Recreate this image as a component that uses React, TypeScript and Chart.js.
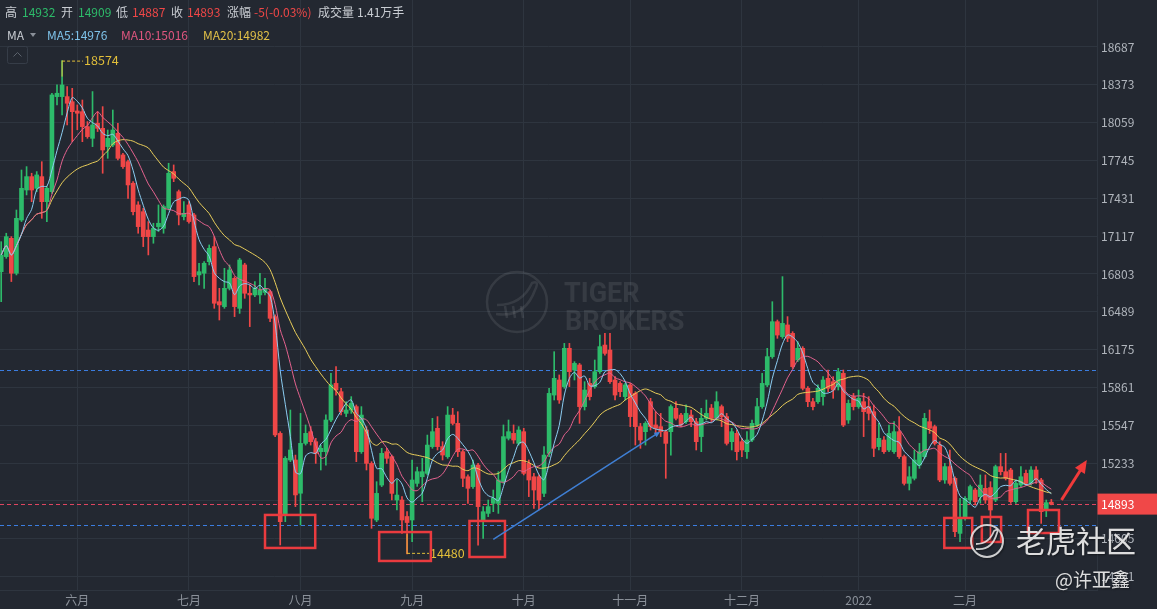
import React, { useEffect, useRef } from "react";
import { Chart, registerables } from "chart.js";

Chart.register(...registerables);

const FONT = '"Noto Sans CJK SC", "Noto Sans", sans-serif';
const BG = "#232831";
const GRID = "#2e353f";
const UP = "#2dbb6a";
const DOWN = "#ef4747";
const LABEL = "#c9cdd3";
const AXIS_TEXT = "#b0b5bc";

const monthTickIndex = [15, 37, 59, 81, 103, 124, 146, 169, 190];
const monthLabels = ["六月", "七月", "八月", "九月", "十月", "十一月", "十二月", "2022", "二月"];
const priceTicks = [18687, 18373, 18059, 17745, 17431, 17117, 16803, 16489, 16175, 15861, 15547, 15233, 14919, 14605, 14291];

const opens = [
  16822, 16947, 17099, 16809, 17251, 17500, 17611, 17514, 17611, 17403,
  17486, 18275, 18275, 18275, 18233, 18156, 18150, 18026, 17929, 18054,
  18012, 17860, 17874, 17971, 17791, 17735, 17556, 17376, 17320, 17168,
  17113, 17196, 17182, 17348, 17653, 17486, 17279, 17376, 17293, 16795,
  16809, 16905, 17030, 16573, 16532, 16684, 16767, 16518, 16878, 16643,
  16629, 16629, 16650, 16656, 16449, 15480, 14803, 15259, 15259, 14983,
  15397, 15494, 15411, 15328, 15328, 15591, 15895, 15826, 15646, 15674,
  15702, 15328, 15508, 15231, 14761, 15051, 15328, 15287, 14927, 14927,
  14790, 14761, 15065, 15120, 15148, 15370, 15522, 15370, 15287, 15632,
  15563, 15328, 15120, 15038, 15217, 14747, 14816, 14899, 14899, 15079,
  15439, 15480, 15397, 15494, 15231, 15120, 15120, 14982, 15314, 15798,
  15923, 15868, 16186, 16006, 16048, 15702, 15895, 15868, 15992, 16213,
  16172, 15923, 15895, 15785, 15882, 15812, 15536, 15494, 15743, 15550,
  15536, 15494, 15494, 15688, 15632, 15577, 15632, 15577, 15453, 15605,
  15690, 15605, 15702, 15619, 15411, 15480, 15411, 15328, 15425, 15550,
  15702, 15882, 16117, 16407, 16283, 16380, 16310, 16089, 16186, 15854,
  15743, 15743, 15785, 15937, 15909, 15868, 15978, 15591, 15785, 15702,
  15743, 15702, 15660, 15370, 15425, 15342, 15328, 15494, 15287, 15065,
  15107, 15217, 15287, 15577, 15536, 15383, 15093, 15204, 15107, 14650,
  14780, 14927, 15010, 14955, 15024, 15030, 14927, 15204, 15162, 15176,
  14913, 15051, 15148, 15065, 15176, 15093, 14850, 14909,
];
const highs = [
  17071, 17141, 17113, 17334, 17666, 17694, 17639, 17653, 17735, 17528,
  18303, 18372, 18574, 18358, 18344, 18206, 18247, 18068, 18317, 18150,
  18192, 17998, 18164, 18054, 17805, 17749, 17569, 17403, 17348, 17238,
  17224, 17376, 17376, 17722, 17708, 17500, 17403, 17403, 17307, 16892,
  16905, 17044, 17113, 16684, 16850, 16878, 16781, 16933, 16892, 16712,
  16739, 16809, 16767, 16670, 16463, 15494, 15287, 15674, 15300, 15646,
  15550, 15536, 15439, 15383, 15633, 15978, 16034, 15854, 15743, 15785,
  15716, 15702, 15536, 15245, 15079, 15356, 15356, 15300, 15093, 14955,
  14830, 15259, 15200, 15273, 15466, 15605, 15619, 15411, 15702, 15688,
  15660, 15342, 15135, 15259, 15231, 14872, 14927, 15010, 15162, 15550,
  15591, 15550, 15536, 15522, 15259, 15148, 15135, 15370, 15854, 16158,
  15965, 16227, 16227, 16075, 16061, 15909, 15937, 16089, 16296, 16310,
  16310, 15951, 15909, 15895, 15895, 15826, 15563, 15577, 15771, 15660,
  15646, 15508, 15716, 15743, 15646, 15716, 15674, 15605, 15688, 15757,
  15720, 15826, 15716, 15646, 15522, 15508, 15439, 15494, 15591, 15771,
  15978, 16186, 16573, 16421, 16781, 16449, 16324, 16241, 16200, 15868,
  15771, 15882, 15951, 16006, 15951, 16020, 16006, 15757, 15812, 15840,
  15812, 15785, 15715, 15563, 15453, 15549, 15577, 15619, 15300, 15204,
  15342, 15397, 15646, 15674, 15549, 15411, 15231, 15342, 15120, 14941,
  14955, 15051, 15024, 15135, 15135, 15079, 15217, 15314, 15314, 15190,
  15093, 15204, 15176, 15204, 15204, 15107, 14927, 14932,
];
const lows = [
  16573, 16933, 16740, 16795, 17238, 17459, 17403, 17486, 17265, 17238,
  17472, 18206, 18123, 18040, 17901, 18000, 17901, 17929, 17860, 17985,
  17639, 17763, 17860, 17749, 17680, 17431, 17293, 17141, 17030, 16961,
  17058, 17155, 17141, 17334, 17569, 17210, 17251, 17224, 16739, 16712,
  16684, 16878, 16518, 16421, 16518, 16670, 16449, 16476, 16601, 16366,
  16615, 16559, 16629, 16407, 15453, 14554, 14747, 15245, 14872, 14720,
  15383, 15383, 15231, 15176, 15217, 15577, 15798, 15633, 15619, 15646,
  15245, 15314, 15176, 14692, 14747, 15038, 15231, 14927, 14844, 14650,
  14480, 14581, 15040, 14913, 15135, 15356, 15342, 15259, 15273, 15550,
  15287, 15038, 14899, 15024, 14553, 14609, 14789, 14830, 14816, 15065,
  15425, 15397, 15383, 15135, 14955, 14858, 14844, 14955, 15287, 15757,
  15729, 15854, 15868, 15923, 15563, 15674, 15757, 15854, 15978, 16130,
  15895, 15757, 15785, 15757, 15536, 15383, 15356, 15383, 15508, 15480,
  15453, 15107, 15300, 15591, 15536, 15563, 15536, 15342, 15328, 15591,
  15580, 15591, 15536, 15383, 15342, 15259, 15287, 15273, 15411, 15536,
  15688, 15868, 16103, 16269, 16269, 16241, 16020, 16075, 15840, 15702,
  15674, 15729, 15715, 15826, 15771, 15840, 15536, 15563, 15674, 15688,
  15453, 15591, 15287, 15342, 15314, 15328, 15314, 15273, 15051, 15010,
  15093, 15190, 15273, 15480, 15383, 15079, 15065, 15051, 14622, 14581,
  14760, 14899, 14886, 14900, 14899, 14595, 14913, 15135, 15093, 14899,
  14899, 15038, 15051, 15051, 15065, 14733, 14789, 14887,
];
const closes = [
  16961, 17113, 16809, 17265, 17514, 17611, 17500, 17625, 17403, 17514,
  18289, 18303, 18372, 18220, 18150, 18137, 18026, 17943, 18040, 18012,
  17832, 17929, 17998, 17763, 17694, 17542, 17320, 17196, 17113, 17113,
  17182, 17224, 17362, 17639, 17597, 17293, 17307, 17238, 16781, 16822,
  16892, 17016, 16560, 16546, 16684, 16836, 16532, 16919, 16643, 16629,
  16684, 16670, 16684, 16435, 15467, 14747, 15273, 15342, 14969, 15397,
  15480, 15411, 15314, 15356, 15591, 15882, 15840, 15660, 15674, 15729,
  15328, 15632, 15231, 14775, 14982, 15314, 15273, 14982, 14968, 14761,
  14740, 15093, 15162, 15162, 15383, 15494, 15370, 15300, 15632, 15563,
  15328, 15107, 15024, 15217, 14872, 14830, 14872, 14941, 15093, 15453,
  15494, 15425, 15508, 15148, 15093, 15010, 14927, 15300, 15812, 15937,
  15757, 16186, 15992, 16061, 15702, 15840, 15785, 15992, 16200, 16144,
  15909, 15798, 15826, 15882, 15619, 15536, 15425, 15563, 15536, 15522,
  15494, 15397, 15702, 15605, 15550, 15646, 15577, 15411, 15605, 15646,
  15605, 15743, 15619, 15397, 15494, 15328, 15342, 15425, 15563, 15702,
  15895, 16117, 16407, 16296, 16393, 16269, 16034, 16186, 15854, 15743,
  15702, 15854, 15923, 15854, 15840, 15992, 15549, 15729, 15702, 15771,
  15660, 15646, 15356, 15439, 15328, 15480, 15494, 15287, 15065, 15120,
  15259, 15328, 15605, 15522, 15397, 15093, 15204, 15065, 14664, 14780,
  14941, 15038, 14913, 15051, 14927, 14844, 15204, 15162, 15107, 14913,
  15065, 15120, 15065, 15176, 15093, 14830, 14905, 14893,
];

const lastPrice = 14893;
const highMark = { index: 12, value: 18574 };
const lowMark = { index: 80, value: 14480 };
const levelLines = [16006, 14717];
// [startIndex, endIndex, topValue, bottomValue]
const boxes = [
  [52.0, 61.9, 14803, 14529],
  [74.5, 84.7, 14661, 14421],
  [92.3, 99.3, 14753, 14454],
  [185.9, 191.4, 14778, 14529],
  [193.3, 197.1, 14786, 14579],
  [202.4, 208.5, 14844, 14653],
];
const trendLine = [[97.0, 14601], [129.9, 15494]];
const upArrow = [[209.0, 14927], [214.0, 15259]];

const headerRow1: [string, string, number][] = [
  ["高", LABEL, 5], ["14932", UP, 22], ["开", LABEL, 61], ["14909", UP, 78],
  ["低", LABEL, 116], ["14887", DOWN, 132], ["收", LABEL, 171], ["14893", DOWN, 187],
  ["涨幅", LABEL, 227], ["-5(-0.03%)", DOWN, 254], ["成交量", LABEL, 318], ["1.41万手", LABEL, 357],
];
const headerRow2: [string, string, number][] = [
  ["MA", LABEL, 7], ["MA5:14976", "#7ec3ea", 47], ["MA10:15016", "#e0567f", 121], ["MA20:14982", "#e2c148", 203],
];

function movingAverage(values: number[], n: number) {
  return values.map((_, i) => {
    const s = Math.max(0, i - n + 1);
    let sum = 0;
    for (let k = s; k <= i; k++) sum += values[k];
    return sum / (i - s + 1);
  });
}

function drawArrow(ctx: CanvasRenderingContext2D, x1: number, y1: number, x2: number, y2: number, color: string, width: number, head: number) {
  const ang = Math.atan2(y2 - y1, x2 - x1);
  ctx.save();
  ctx.strokeStyle = color;
  ctx.fillStyle = color;
  ctx.lineWidth = width;
  ctx.beginPath();
  ctx.moveTo(x1, y1);
  ctx.lineTo(x2 - head * 0.7 * Math.cos(ang), y2 - head * 0.7 * Math.sin(ang));
  ctx.stroke();
  const bx = x2 - head * Math.cos(ang), by = y2 - head * Math.sin(ang);
  const px = Math.sin(ang) * head * 0.45, py = -Math.cos(ang) * head * 0.45;
  ctx.beginPath();
  ctx.moveTo(x2, y2);
  ctx.lineTo(bx + px, by + py);
  ctx.lineTo(bx - px, by - py);
  ctx.closePath();
  ctx.fill();
  ctx.restore();
}

const decorPlugin = {
  id: "decor",
  beforeDraw(chart: any) {
    const ctx = chart.ctx as CanvasRenderingContext2D;
    ctx.save();
    ctx.fillStyle = BG;
    ctx.fillRect(0, 0, chart.width, chart.height);
    ctx.restore();
  },
  beforeDatasetsDraw(chart: any) {
    const ctx = chart.ctx as CanvasRenderingContext2D;
    const x = chart.scales.x, y = chart.scales.y;
    const area = chart.chartArea;
    ctx.save();
    // TIGER BROKERS watermark
    const wm = "rgba(255,255,255,0.09)";
    ctx.strokeStyle = wm;
    ctx.fillStyle = wm;
    ctx.lineWidth = 2.5;
    ctx.beginPath();
    ctx.arc(517, 302, 30, 0, Math.PI * 2);
    ctx.stroke();
    ctx.lineWidth = 2.5;
    ctx.beginPath();
    ctx.moveTo(496, 314);
    ctx.quadraticCurveTo(525, 318, 535, 290);
    ctx.quadraticCurveTo(540, 280, 532, 283);
    ctx.quadraticCurveTo(522, 305, 497, 305);
    ctx.stroke();
    ctx.beginPath();
    for (const dx of [505, 513, 521]) {
      ctx.moveTo(dx, 306);
      ctx.lineTo(dx + 2, 318);
    }
    ctx.stroke();
    ctx.font = `bold 27px Roboto, "Noto Sans", sans-serif`;
    ctx.textBaseline = "alphabetic";
    ctx.fillText("TIGER", 564, 302);
    ctx.fillText("BROKERS", 565, 330);
    // level lines
    ctx.setLineDash([4, 3]);
    ctx.lineWidth = 1;
    ctx.strokeStyle = "#3b7de0";
    for (const v of levelLines) {
      const py = Math.round(y.getPixelForValue(v)) + 0.5;
      ctx.beginPath();
      ctx.moveTo(area.left, py);
      ctx.lineTo(area.right, py);
      ctx.stroke();
    }
    ctx.strokeStyle = "#de4560";
    const pp = Math.round(y.getPixelForValue(lastPrice)) + 0.5;
    ctx.beginPath();
    ctx.moveTo(area.left, pp);
    ctx.lineTo(area.right, pp);
    ctx.stroke();
    ctx.restore();
  },
  afterDatasetsDraw(chart: any) {
    const ctx = chart.ctx as CanvasRenderingContext2D;
    const x = chart.scales.x, y = chart.scales.y;
    ctx.save();
    const yellow = "#e2bf3a";
    ctx.font = `12.5px ${FONT}`;
    ctx.textBaseline = "middle";
    // high marker
    const hx = x.getPixelForValue(highMark.index), hy = y.getPixelForValue(highMark.value);
    ctx.strokeStyle = yellow;
    ctx.fillStyle = yellow;
    ctx.lineWidth = 1;
    ctx.setLineDash([]);
    ctx.beginPath();
    ctx.moveTo(hx, hy);
    ctx.lineTo(hx, hy + 16);
    ctx.stroke();
    ctx.setLineDash([3, 2]);
    ctx.beginPath();
    ctx.moveTo(hx, hy + 0.5);
    ctx.lineTo(hx + 21, hy + 0.5);
    ctx.stroke();
    ctx.fillText(String(highMark.value), hx + 22, hy);
    // low marker
    const lx = x.getPixelForValue(lowMark.index), ly = y.getPixelForValue(lowMark.value);
    ctx.setLineDash([]);
    ctx.beginPath();
    ctx.moveTo(lx, ly);
    ctx.lineTo(lx, ly - 20);
    ctx.stroke();
    ctx.setLineDash([3, 2]);
    ctx.beginPath();
    ctx.moveTo(lx, ly - 0.5);
    ctx.lineTo(lx + 22, ly - 0.5);
    ctx.stroke();
    ctx.fillText(String(lowMark.value), lx + 23, ly - 1);
    ctx.setLineDash([]);
    // boxes
    ctx.strokeStyle = "#ea3b3f";
    ctx.lineWidth = 2.5;
    for (const [i0, i1, vt, vb] of boxes) {
      const x0 = x.getPixelForValue(i0), x1 = x.getPixelForValue(i1);
      const y0 = y.getPixelForValue(vt), y1 = y.getPixelForValue(vb);
      ctx.strokeRect(x0, y0, x1 - x0, y1 - y0);
    }
    // trend line
    drawArrow(ctx,
      x.getPixelForValue(trendLine[0][0]), y.getPixelForValue(trendLine[0][1]),
      x.getPixelForValue(trendLine[1][0]), y.getPixelForValue(trendLine[1][1]),
      "#3f7fd4", 1.5, 6);
    drawArrow(ctx,
      x.getPixelForValue(upArrow[0][0]), y.getPixelForValue(upArrow[0][1]),
      x.getPixelForValue(upArrow[1][0]), y.getPixelForValue(upArrow[1][1]),
      "#f03a3a", 3, 13);
    ctx.restore();
  },
  afterDraw(chart: any) {
    const ctx = chart.ctx as CanvasRenderingContext2D;
    const y = chart.scales.y;
    ctx.save();
    // y labels
    ctx.font = `12px ${FONT}`;
    ctx.textBaseline = "middle";
    ctx.textAlign = "left";
    ctx.fillStyle = AXIS_TEXT;
    for (const v of priceTicks) {
      ctx.fillText(String(v), y.left + 4, y.getPixelForValue(v));
    }
    // price label
    const py = y.getPixelForValue(lastPrice);
    ctx.fillStyle = "#f04848";
    ctx.fillRect(y.left + 0.5, py - 10.5, chart.width - y.left, 21);
    ctx.fillStyle = "#ffffff";
    ctx.fillText(String(lastPrice), y.left + 4, py);
    // header
    ctx.font = `12px ${FONT}`;
    for (const [t, c, px] of headerRow1) {
      ctx.fillStyle = c;
      ctx.fillText(t, px, 12.5);
    }
    for (const [t, c, px] of headerRow2) {
      ctx.fillStyle = c;
      ctx.fillText(t, px, 35.5);
    }
    ctx.fillStyle = "#8a9099";
    ctx.beginPath();
    ctx.moveTo(30, 33);
    ctx.lineTo(36, 33);
    ctx.lineTo(33, 37);
    ctx.closePath();
    ctx.fill();
    // collapse button
    ctx.strokeStyle = "#363d48";
    ctx.lineWidth = 1;
    ctx.beginPath();
    (ctx as any).roundRect ? (ctx as any).roundRect(7.5, 46.5, 20, 17, 2) : ctx.rect(7.5, 46.5, 20, 17);
    ctx.stroke();
    ctx.strokeStyle = "#5a616b";
    ctx.beginPath();
    ctx.moveTo(13.5, 56.5);
    ctx.lineTo(17.5, 52.5);
    ctx.lineTo(21.5, 56.5);
    ctx.stroke();
    // community watermark
    ctx.shadowColor = "rgba(0,0,0,0.45)";
    ctx.shadowBlur = 2;
    ctx.shadowOffsetX = 1;
    ctx.shadowOffsetY = 1;
    ctx.strokeStyle = "rgba(235,235,235,0.85)";
    ctx.lineWidth = 2;
    ctx.beginPath();
    ctx.arc(987, 541, 16, 0, Math.PI * 2);
    ctx.stroke();
    ctx.lineWidth = 1.8;
    ctx.beginPath();
    ctx.moveTo(976, 549);
    ctx.quadraticCurveTo(992, 551, 997, 533);
    ctx.quadraticCurveTo(999, 528, 994, 531);
    ctx.quadraticCurveTo(989, 544, 976, 544);
    ctx.stroke();
    ctx.fillStyle = "rgba(238,238,238,0.92)";
    ctx.font = `30px ${FONT}`;
    ctx.textBaseline = "alphabetic";
    ctx.fillText("老虎社区", 1016, 552);
    ctx.font = `19px ${FONT}`;
    ctx.fillText("@许亚鑫", 1055, 587);
    ctx.restore();
  },
};

export default function App() {
  const ref = useRef<HTMLCanvasElement>(null);
  useEffect(() => {
    document.body.style.margin = "0";
    document.body.style.background = BG;
    const canvas = ref.current!;
    const idx = closes.map((_, i) => i);
    const colors = idx.map((i) => (closes[i] >= opens[i] ? UP : DOWN));
    const ma5 = movingAverage(closes, 5);
    const ma10 = movingAverage(closes, 10);
    const ma20 = movingAverage(closes, 20);
    const chart = new Chart(canvas, {
      type: "bar",
      data: {
        datasets: [
          {
            type: "line",
            label: "MA5",
            data: idx.map((i) => ({ x: i, y: ma5[i] })),
            borderColor: "#8ccdf2",
            borderWidth: 1,
            pointRadius: 0,
            tension: 0.3,
            order: 1,
          } as any,
          {
            type: "line",
            label: "MA10",
            data: idx.map((i) => ({ x: i, y: ma10[i] })),
            borderColor: "#e3628e",
            borderWidth: 1,
            pointRadius: 0,
            tension: 0.3,
            order: 2,
          } as any,
          {
            type: "line",
            label: "MA20",
            data: idx.map((i) => ({ x: i, y: ma20[i] })),
            borderColor: "#e8cd5a",
            borderWidth: 1,
            pointRadius: 0,
            tension: 0.3,
            order: 3,
          } as any,
          {
            type: "bar",
            label: "body",
            data: idx.map((i) => ({ x: i, y: [opens[i], closes[i]] })),
            backgroundColor: colors,
            borderWidth: 0,
            barThickness: 4,
            minBarLength: 1,
            grouped: false,
            order: 4,
          } as any,
          {
            type: "bar",
            label: "wick",
            data: idx.map((i) => ({ x: i, y: [lows[i], highs[i]] })),
            backgroundColor: colors,
            borderWidth: 0,
            barThickness: 1,
            grouped: false,
            order: 5,
          } as any,
        ],
      },
      options: {
        animation: false,
        responsive: false,
        events: [],
        layout: { padding: 0 },
        plugins: { legend: { display: false }, tooltip: { enabled: false } },
        scales: {
          x: {
            type: "linear",
            min: -0.237,
            max: 216.0,
            offset: false,
            afterBuildTicks: (s: any) => {
              s.ticks = monthTickIndex.map((v) => ({ value: v }));
            },
            afterFit: (s: any) => {
              s.height = 19;
            },
            ticks: {
              autoSkip: false,
              maxRotation: 0,
              padding: 3,
              color: "#8b919a",
              font: { size: 12, family: FONT },
              callback: (_v: any, i: number) => monthLabels[i],
            },
            grid: { color: GRID, drawTicks: false, offset: false },
            border: { color: GRID },
          },
          y: {
            type: "linear",
            position: "right",
            min: 14180,
            max: 19077,
            beginAtZero: false,
            afterBuildTicks: (s: any) => {
              s.ticks = priceTicks.map((v) => ({ value: v }));
            },
            afterFit: (s: any) => {
              s.width = 60;
            },
            ticks: { display: false },
            grid: { color: GRID, drawTicks: false },
            border: { color: GRID },
          },
        },
      } as any,
      plugins: [decorPlugin as any],
    });
    return () => chart.destroy();
  }, []);
  return (
    <div style={{ width: 1157, height: 609 }}>
      <canvas ref={ref} width={1157} height={609} style={{ display: "block" }} />
    </div>
  );
}
